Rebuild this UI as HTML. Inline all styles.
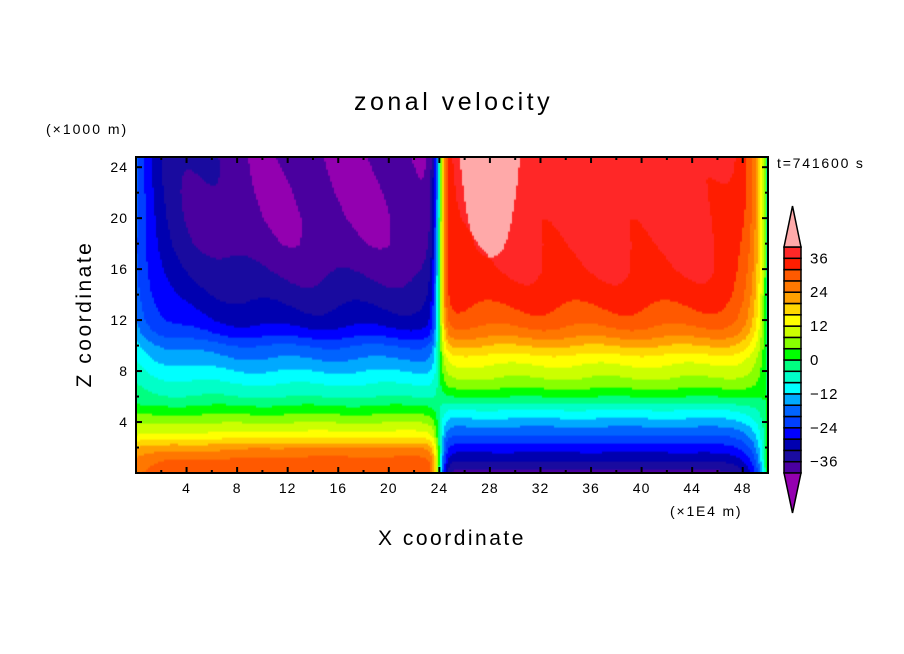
<!DOCTYPE html>
<html><head><meta charset="utf-8"><style>
body{margin:0;background:#fff;width:904px;height:654px;overflow:hidden;position:relative;font-family:"Liberation Sans",sans-serif}
.t{position:absolute;color:#000;white-space:nowrap}
</style></head><body>
<div class="t" style="left:354px;top:88px;font-size:25px;letter-spacing:3.5px">zonal velocity</div>
<div class="t" style="left:46px;top:121px;font-size:14px;letter-spacing:2px">(×1000 m)</div>
<div class="t" style="left:777px;top:155px;font-size:14px;letter-spacing:1.8px">t=741600 s</div>
<div class="t" style="left:670px;top:503px;font-size:14px;letter-spacing:1.8px">(×1E4 m)</div>
<div class="t" style="left:378px;top:527px;font-size:21px;letter-spacing:2.5px">X coordinate</div>
<div class="t" style="left:10px;top:302px;font-size:21px;letter-spacing:2.5px;transform:rotate(-90deg);transform-origin:75px 12px;width:150px;text-align:center">Z coordinate</div>
<canvas id="cv" width="632" height="316" style="position:absolute;left:136px;top:157px"></canvas>
<svg id="sv" width="904" height="654" style="position:absolute;left:0;top:0"></svg>
<script>
const zLevels=[0,1,2,3,4,5,6,7,8,9,10,11,12,14,16,18,20,22,25];
const westProfile=[32,30,24,14,8,2,-4,-8,-12,-16,-20,-26,-30,-34,-37,-39.2,-40,-40.2,-40];
const eastProfile=[-38,-32,-26,-20,-14,-8,0,6,10,14,20,26,30,34,36,36.8,37.2,37.4,37.4];
const levels=[-40,-36,-32,-28,-24,-20,-16,-12,-8,-4,0,4,8,12,16,20,24,28,32,36,40];
const colors=["#9400b0","#4b00a0","#1a0ca0","#0000b0","#0000ff","#0040ff","#0064ff","#00aaff","#00ffff","#00ffc8","#00ff80","#00ff00","#88ff00","#ccff00","#ffff00","#ffd700","#ffa000","#ff7800","#ff5a00","#ff1e00","#ff2828","#ffaaaa"];
const xTicks=[4,8,12,16,20,24,28,32,36,40,44,48];
const yTicks=[4,8,12,16,20,24];
const cbLabels=[36,24,12,0,-12,-24,-36];
const X0=136,X1=768,Y0=473,Y1=157,XMAX=50,ZMAX=24.8;
const sx=x=>X0+(x/XMAX)*(X1-X0), sz=z=>Y0-(z/ZMAX)*(Y0-Y1);
function prof(arr,z){for(let i=0;i<zLevels.length-1;i++){if(z<=zLevels[i+1]){const t=(z-zLevels[i])/(zLevels[i+1]-zLevels[i]);return arr[i]+t*(arr[i+1]-arr[i]);}}return arr[arr.length-1];}
function u(x,z){
 const w=prof(westProfile,z),e=prof(eastProfile,z);
 const s=Math.tanh((x-24)/0.5);
 let v=w*(1-s)/2+e*(1+s)/2;
 if(x<24){v*=1-0.5*Math.exp(-x/2.5)*(z>6?1:0.3);v*=1-0.04*Math.exp(-Math.pow((x-6)/2.5,2));}
 else{v*=1-1.15*Math.exp(-(50-x)/0.9);}
 if(z>17+Math.pow(Math.abs(x-28)/2.3,3)*7&&x>25.5)v+=4;
 v+=1.2*Math.sin(x*0.9+z*0.35)*Math.min(1,z/12);
 return v;
}
function col(v){let i=0;while(i<levels.length&&v>levels[i])i++;return colors[i];}
const ctx=document.getElementById('cv').getContext('2d');
const nx=316,nz=158;
for(let i=0;i<nx;i++)for(let j=0;j<nz;j++){
 const x=(i+0.5)/nx*XMAX,z=(j+0.5)/nz*ZMAX;
 ctx.fillStyle=col(u(x,z));
 ctx.fillRect(sx(i/nx*XMAX)-X0,sz((j+1)/nz*ZMAX)-Y1,(X1-X0)/nx+0.6,(Y0-Y1)/nz+0.6);
}
const sv=document.getElementById('sv'),NS="http://www.w3.org/2000/svg";
function mk(tag,at,txt){const e=document.createElementNS(NS,tag);for(const k in at)e.setAttribute(k,at[k]);if(txt!=null)e.textContent=txt;sv.appendChild(e);return e;}
let fr=mk('rect',{x:X0,y:Y1,width:X1-X0,height:Y0-Y1,fill:'none',stroke:'#000','stroke-width':2});


for(let x=2;x<XMAX;x+=2){const L=x%4==0?6:3;mk('line',{x1:sx(x),x2:sx(x),y1:Y0,y2:Y0-L,stroke:'#000','stroke-width':2});mk('line',{x1:sx(x),x2:sx(x),y1:Y1,y2:Y1+L,stroke:'#000','stroke-width':2});}
for(let z=2;z<ZMAX;z+=2){const L=z%4==0?6:3;mk('line',{x1:X0,x2:X0+L,y1:sz(z),y2:sz(z),stroke:'#000','stroke-width':2});mk('line',{x1:X1,x2:X1-L,y1:sz(z),y2:sz(z),stroke:'#000','stroke-width':2});}
xTicks.forEach(v=>{const t=mk('text',{x:sx(v),y:Y0+20,'text-anchor':'middle','font-size':14,'letter-spacing':1,'font-family':'Liberation Sans'},v);

});
yTicks.forEach(v=>{const t=mk('text',{x:X0-8,y:sz(v)+5,'text-anchor':'end','font-size':14,'letter-spacing':1,'font-family':'Liberation Sans'},v);

});
const CX0=784,CX1=801,CT=247,CB=473,nb=levels.length-1,bh=(CB-CT)/nb;
const cy=v=>CT+(40-v)/80*(CB-CT);
for(let i=0;i<nb;i++){const r=mk('rect',{x:CX0,y:cy(levels[i+1]),width:CX1-CX0,height:bh,fill:colors[i+1],stroke:'#000','stroke-width':1.5});

}
let tp=mk('polygon',{points:`${CX0},${CT} ${CX1},${CT} ${(CX0+CX1)/2},206`,fill:colors[colors.length-1],stroke:'#000','stroke-width':1.5});


let bt=mk('polygon',{points:`${CX0},${CB} ${CX1},${CB} ${(CX0+CX1)/2},513`,fill:colors[0],stroke:'#000','stroke-width':1.5});


cbLabels.forEach(v=>{const t=mk('text',{x:810,y:cy(v)+5,'font-size':15,'letter-spacing':1,'font-family':'Liberation Sans'},v<0?'\u2212'+(-v):v);

});
</script>
</body></html>
